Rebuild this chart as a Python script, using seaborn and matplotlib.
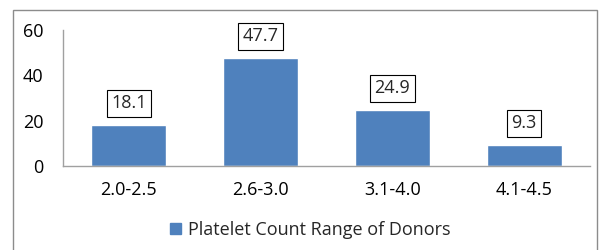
import matplotlib
matplotlib.use("Agg")
import pandas as pd
import seaborn as sns
import matplotlib.pyplot as plt
from matplotlib.patches import Rectangle, Patch

categories = ["2.0-2.5", "2.6-3.0", "3.1-4.0", "4.1-4.5"]
percentages = [18.1, 47.7, 24.9, 9.3]
series_name = "Platelet Count Range of Donors"

df = pd.DataFrame({"range": categories, "value": percentages})

sns.set_theme(style="white")
plt.rcParams["font.family"] = ["Open Sans", "DejaVu Sans"]

fig = plt.figure(figsize=(6.06, 2.5), dpi=100)
ax = fig.add_axes([63 / 606, 1 - 166 / 250, 527 / 606, 136 / 250])

bar_color = "#4F81BD"
sns.barplot(data=df, x="range", y="value", color=bar_color, width=0.57,
            saturation=1, ax=ax)

fs = 13
ax.set_xlim(-0.5, 3.5)
ax.set_ylim(0, 60)
ax.set_yticks([0, 20, 40, 60])
ax.set(xlabel=None, ylabel=None)
ax.tick_params(axis="both", length=0, labelsize=fs, colors="black")
ax.tick_params(axis="x", pad=11)
ax.tick_params(axis="y", pad=14)

for side in ["top", "right"]:
    ax.spines[side].set_visible(False)
for side in ["left", "bottom"]:
    ax.spines[side].set_color("#A0A0A0")
    ax.spines[side].set_linewidth(1)

for i, v in enumerate(percentages):
    ax.annotate(f"{v}", xy=(i, v), xytext=(0, 9), textcoords="offset points",
                ha="center", va="bottom", fontsize=fs,
                bbox=dict(boxstyle="square,pad=0.25", fc="white", ec="black", lw=0.8))

fig.legend(handles=[Patch(color=bar_color, label=series_name)],
           loc="center", bbox_to_anchor=(310 / 606, 1 - 230 / 250),
           frameon=False, fontsize=fs, handlelength=0.6, handleheight=0.6,
           handletextpad=0.4)

fig.patches.append(Rectangle((13 / 606, -0.1), 584 / 606, 1.1 - 10 / 250,
                             transform=fig.transFigure, fill=False,
                             ec="#8C8C8C", lw=1, zorder=0))

fig.savefig("out.png", dpi=100)
